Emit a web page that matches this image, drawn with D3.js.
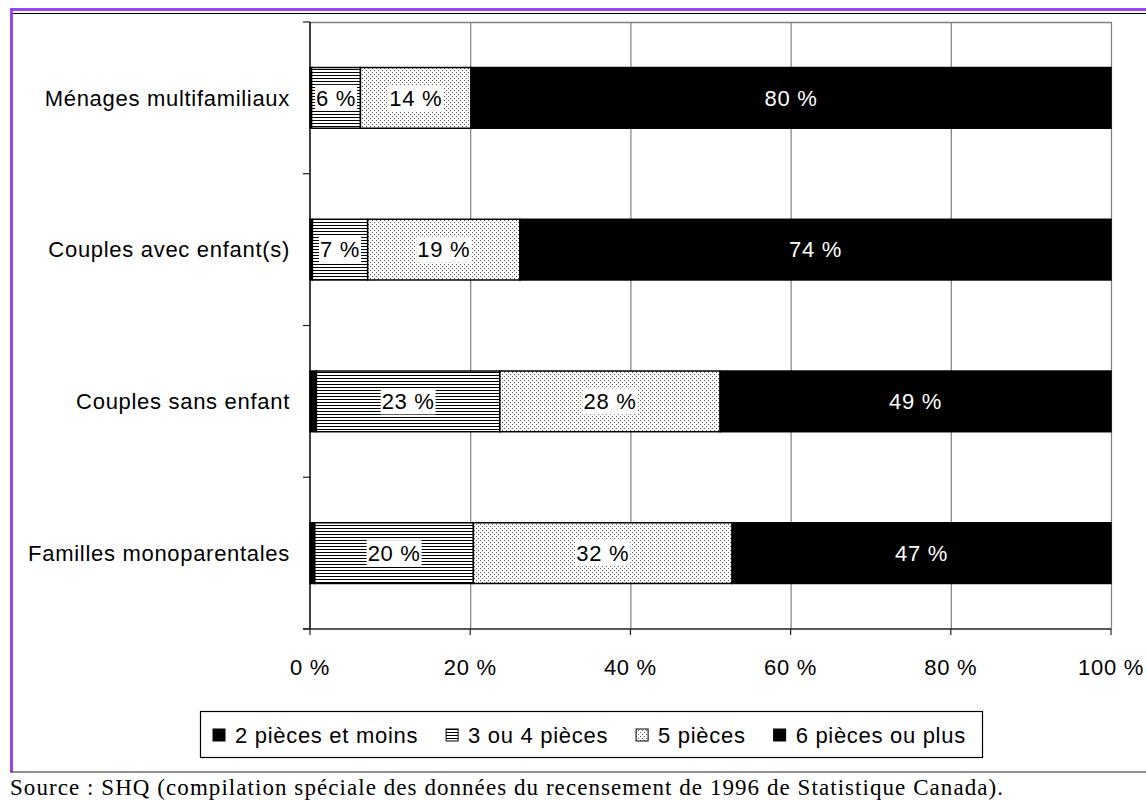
<!DOCTYPE html>
<html>
<head>
<meta charset="utf-8">
<script src="https://cdn.jsdelivr.net/npm/d3@7"></script>
<style>
  html, body { margin: 0; padding: 0; background: #fff; }
  svg { display: block; }
</style>
</head>
<body>
<svg id="chart" width="1146" height="801"></svg>
<script>
// ---- Data ----
const categories = ["Ménages multifamiliaux", "Couples avec enfant(s)", "Couples sans enfant", "Familles monoparentales"];
const seriesNames = ["2 pièces et moins", "3 ou 4 pièces", "5 pièces", "6 pièces ou plus"];
const twoOrLess   = [0.2, 0.3, 0.8, 0.6];
const threeOrFour = [6.1, 6.9, 22.9, 19.8];
const five        = [13.8, 19.0, 27.5, 32.3];
const sixOrMore   = [79.9, 73.8, 48.8, 47.3];
const showLabel   = [false, true, true, true];
const xTicks = [0, 20, 40, 60, 80, 100];
const sourceText = "Source : SHQ (compilation spéciale des données du recensement de 1996 de Statistique Canada).";

const seriesValues = [twoOrLess, threeOrFour, five, sixOrMore];
const fills = ["#000", "url(#hatch)", "url(#dots)", "#000"];

const svg = d3.select("#chart");
const FONT = "Liberation Sans, Arial, sans-serif";
const FS = 22, LS = 0.7;

// patterns
const defs = svg.append("defs");
const ph = defs.append("pattern").attr("id", "hatch").attr("patternUnits", "userSpaceOnUse")
  .attr("width", 4).attr("height", 3);
ph.append("rect").attr("width", 4).attr("height", 3).attr("fill", "#fff");
ph.append("rect").attr("y", 0).attr("width", 4).attr("height", 1).attr("fill", "#000");
const pd = defs.append("pattern").attr("id", "dots").attr("patternUnits", "userSpaceOnUse")
  .attr("width", 4).attr("height", 4);
pd.append("rect").attr("width", 4).attr("height", 4).attr("fill", "#fff");
pd.append("rect").attr("x", 0).attr("y", 0).attr("width", 1).attr("height", 1).attr("fill", "#555");
pd.append("rect").attr("x", 2).attr("y", 2).attr("width", 1).attr("height", 1).attr("fill", "#555");

// frame
svg.append("rect").attr("x", 10).attr("y", 8).attr("width", 1136).attr("height", 3).attr("fill", "#9b45f0");
svg.append("rect").attr("x", 10).attr("y", 8).attr("width", 3).attr("height", 764).attr("fill", "#9b45f0");
svg.append("line").attr("x1", 13).attr("x2", 1146).attr("y1", 13.5).attr("y2", 13.5).attr("stroke", "#000").attr("stroke-width", 1.2);
svg.append("line").attr("x1", 10).attr("x2", 1146).attr("y1", 772).attr("y2", 772).attr("stroke", "#222").attr("stroke-width", 1.2);

// scales
const pLeft = 310, pRight = 1111, pTop = 22, pBottom = 629;
const x = d3.scaleLinear().domain([0, 100]).range([pLeft, pRight]);
const y = d3.scaleBand().domain(categories).range([pTop, pBottom]).paddingInner(0.6).paddingOuter(0.3);

// grid
svg.append("g").selectAll("line").data(xTicks.slice(1)).join("line")
  .attr("x1", d => x(d) + 0.5).attr("x2", d => x(d) + 0.5)
  .attr("y1", pTop).attr("y2", pBottom)
  .attr("stroke", "#808080").attr("stroke-width", 1.2);
svg.append("line").attr("x1", pLeft).attr("x2", pRight + 0.5).attr("y1", pTop + 0.5).attr("y2", pTop + 0.5)
  .attr("stroke", "#808080").attr("stroke-width", 1.5);

// bars
const stacked = categories.map((c, i) => {
  let acc = 0;
  return seriesValues.map((s, k) => {
    const seg = { cat: c, k, v: s[i], x0: acc, x1: acc + s[i] };
    acc += s[i];
    return seg;
  });
}).flat();

svg.append("g").selectAll("rect").data(stacked).join("rect")
  .attr("x", d => x(d.x0)).attr("width", d => x(d.x1) - x(d.x0))
  .attr("y", d => y(d.cat)).attr("height", y.bandwidth())
  .attr("fill", d => fills[d.k])
  .attr("stroke", "#000").attr("stroke-width", 1.5);

// labels
const lab = svg.append("g").attr("font-family", FONT).attr("font-size", FS).attr("letter-spacing", LS);
stacked.filter(d => showLabel[d.k]).forEach(d => {
  const cx = (x(d.x0) + x(d.x1)) / 2;
  const cy = y(d.cat) + y.bandwidth() / 2;
  const txt = Math.round(d.v) + " %";
  const t = lab.append("text").attr("x", cx).attr("y", cy).attr("dy", "0.35em")
    .attr("text-anchor", "middle").attr("fill", d.k === 3 ? "#fff" : "#000").text(txt);
  if (d.k !== 3) {
    const w = t.node().getComputedTextLength();
    lab.insert("rect", "text").attr("x", cx - w / 2 - 1).attr("y", cy - 13).attr("width", w + 2).attr("height", 26).attr("fill", "#fff");
  }
});
lab.selectAll("text").raise();

// y axis
svg.append("line").attr("x1", pLeft).attr("x2", pLeft).attr("y1", pTop).attr("y2", pBottom).attr("stroke", "#000").attr("stroke-width", 1.5);
const yBounds = [0, 1, 2, 3, 4].map(i => pTop + i * y.step());
svg.append("g").selectAll("line").data(yBounds).join("line")
  .attr("x1", pLeft - 7).attr("x2", pLeft).attr("y1", d => d).attr("y2", d => d)
  .attr("stroke", "#222").attr("stroke-width", 1.2);
svg.append("g").selectAll("text").data(categories).join("text")
  .attr("x", 290).attr("y", d => y(d) + y.bandwidth() / 2).attr("dy", "0.35em")
  .attr("text-anchor", "end").attr("font-family", FONT).attr("font-size", FS).attr("letter-spacing", LS).attr("fill", "#000")
  .text(d => d);

// x axis
svg.append("line").attr("x1", pLeft - 7).attr("x2", pRight).attr("y1", pBottom).attr("y2", pBottom).attr("stroke", "#222").attr("stroke-width", 1.5);
svg.append("g").selectAll("line").data(xTicks).join("line")
  .attr("x1", d => x(d)).attr("x2", d => x(d)).attr("y1", pBottom).attr("y2", pBottom + 6)
  .attr("stroke", "#222").attr("stroke-width", 1.2);
svg.append("g").selectAll("text").data(xTicks).join("text")
  .attr("x", d => x(d)).attr("y", 667).attr("dy", "0.35em")
  .attr("text-anchor", "middle").attr("font-family", FONT).attr("font-size", FS).attr("letter-spacing", LS).attr("fill", "#000")
  .text(d => d + " %");

// legend
const lg = svg.append("g");
lg.append("rect").attr("x", 200.5).attr("y", 711.5).attr("width", 782).attr("height", 46)
  .attr("fill", "#fff").attr("stroke", "#000").attr("stroke-width", 1.2);
let lx = 213;
const legendFills = ["#000", "url(#hatch)", "url(#dots)", "#000"];
seriesNames.forEach((name, k) => {
  lg.append("rect").attr("x", lx).attr("y", 729).attr("width", 12).attr("height", 12)
    .attr("fill", legendFills[k]).attr("stroke", "#000").attr("stroke-width", 1);
  const t = lg.append("text").attr("x", lx + 22).attr("y", 735).attr("dy", "0.35em")
    .attr("font-family", FONT).attr("font-size", FS).attr("letter-spacing", LS).attr("fill", "#000").text(name);
  lx += 22 + t.node().getComputedTextLength() + 28;
});

// source
svg.append("text").attr("x", 10).attr("y", 795).attr("font-family", "Liberation Serif, Times New Roman, serif")
  .attr("font-size", 23).attr("textLength", 993).attr("lengthAdjust", "spacing").attr("fill", "#000").text(sourceText);
</script>
</body>
</html>
